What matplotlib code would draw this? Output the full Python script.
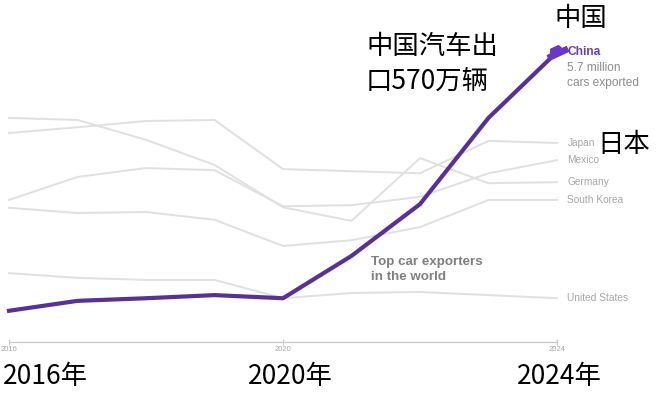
import matplotlib.pyplot as plt
from matplotlib.path import Path
from matplotlib.transforms import Affine2D

plt.rcParams['font.family'] = ['Liberation Sans', 'DejaVu Sans']

years = [2016, 2017, 2018, 2019, 2020, 2021, 2022, 2023, 2024]

# car exports, millions
china = [0.75, 0.94, 0.99, 1.05, 0.99, 1.80, 2.79, 4.44, 5.70]
japan = [4.15, 4.26, 4.38, 4.40, 3.46, 3.42, 3.38, 4.00, 3.96]
germany = [4.44, 4.40, 4.02, 3.54, 2.73, 2.47, 3.67, 3.19, 3.21]
mexico = [2.87, 3.31, 3.48, 3.44, 2.75, 2.77, 2.93, 3.38, 3.63]
south_korea = [2.72, 2.62, 2.64, 2.49, 1.99, 2.10, 2.35, 2.87, 2.87]
united_states = [1.47, 1.38, 1.34, 1.34, 0.99, 1.09, 1.11, 1.05, 0.99]

others = {'Japan': japan, 'Mexico': mexico, 'Germany': germany,
          'South Korea': south_korea, 'United States': united_states}
tick_years = [2016, 2020, 2024]
cn_tick_labels = ['2016年', '2020年', '2024年']

W, H = 656, 396
fig = plt.figure(figsize=(W / 100, H / 100), dpi=100)
ax = fig.add_axes([9 / W, 54 / H, 548 / W, 290 / H])
ax.set_xlim(2016, 2024)
ax.set_ylim(0.153, 5.70)

purple = '#58309a'
gray_line = '#e0e0e0'
gray_text = '#a6a6a6'

for name, vals in others.items():
    ax.plot(years, vals, color=gray_line, lw=1.4, clip_on=False)
    ax.annotate(name, (years[-1], vals[-1]), xytext=(7.5, 0), textcoords='offset points',
                fontsize=7.3, color=gray_text, va='center', ha='left')

ax.plot(years, china, color=purple, lw=3, solid_joinstyle='round', clip_on=False, zorder=5)

# little car icon at the end of the China line
car = Path([(-1, -0.35), (1, -0.35), (1, 0.15), (0.55, 0.15), (0.35, 0.55), (-0.45, 0.55),
            (-0.65, 0.15), (-1, 0.15), (-1, -0.35)])
car = car.transformed(Affine2D().rotate_deg(25))
ax.plot([years[-1]], [china[-1]], marker=car, markersize=16, color='#6a35c8',
        clip_on=False, zorder=6)

ax.annotate('China', (years[-1], china[-1]), xytext=(7.5, 0), textcoords='offset points',
            fontsize=8.6, color='#6a3fb0', fontweight='bold', va='center')
ax.annotate('5.7 million\ncars exported', (years[-1], china[-1]), xytext=(7.5, -7.5),
            textcoords='offset points', fontsize=8.6, color='#8c8c8c', va='top',
            linespacing=1.3)

ax.text(2021.28, 1.80, 'Top car exporters\nin the world', fontsize=9.6, fontweight='bold',
        color='#7f7f7f', va='top', ha='left', linespacing=1.35,
        bbox=dict(facecolor='white', edgecolor='none', pad=1))

for s in ['top', 'right', 'left']:
    ax.spines[s].set_visible(False)
ax.spines['bottom'].set_color('#c8c8c8')
ax.spines['bottom'].set_linewidth(0.9)
ax.set_yticks([])
ax.set_xticks(tick_years)
ax.set_xticklabels([str(y) for y in tick_years], fontsize=5.5, color=gray_text)
ax.tick_params(axis='x', direction='inout', length=4, width=0.8, color='#c8c8c8', pad=1)

cjk = ['Noto Sans CJK SC', 'DejaVu Sans']
big = 19
fig.text(3 / W, 1 - 377 / H, cn_tick_labels[0], fontsize=big, family=cjk, va='center')
fig.text(248 / W, 1 - 377 / H, cn_tick_labels[1], fontsize=big, family=cjk, va='center')
fig.text(517 / W, 1 - 377 / H, cn_tick_labels[2], fontsize=big, family=cjk, va='center')
fig.text(366 / W, 1 - 47 / H, '中国汽车出', fontsize=big, family=cjk, va='center')
fig.text(366 / W, 1 - 81 / H, '口570万辆', fontsize=big, family=cjk, va='center')
fig.text(554 / W, 1 - 18 / H, '中国', fontsize=big, family=cjk, va='center')
fig.text(597 / W, 1 - 144 / H, '日本', fontsize=big, family=cjk, va='center')

fig.savefig('out.png', dpi=100)
